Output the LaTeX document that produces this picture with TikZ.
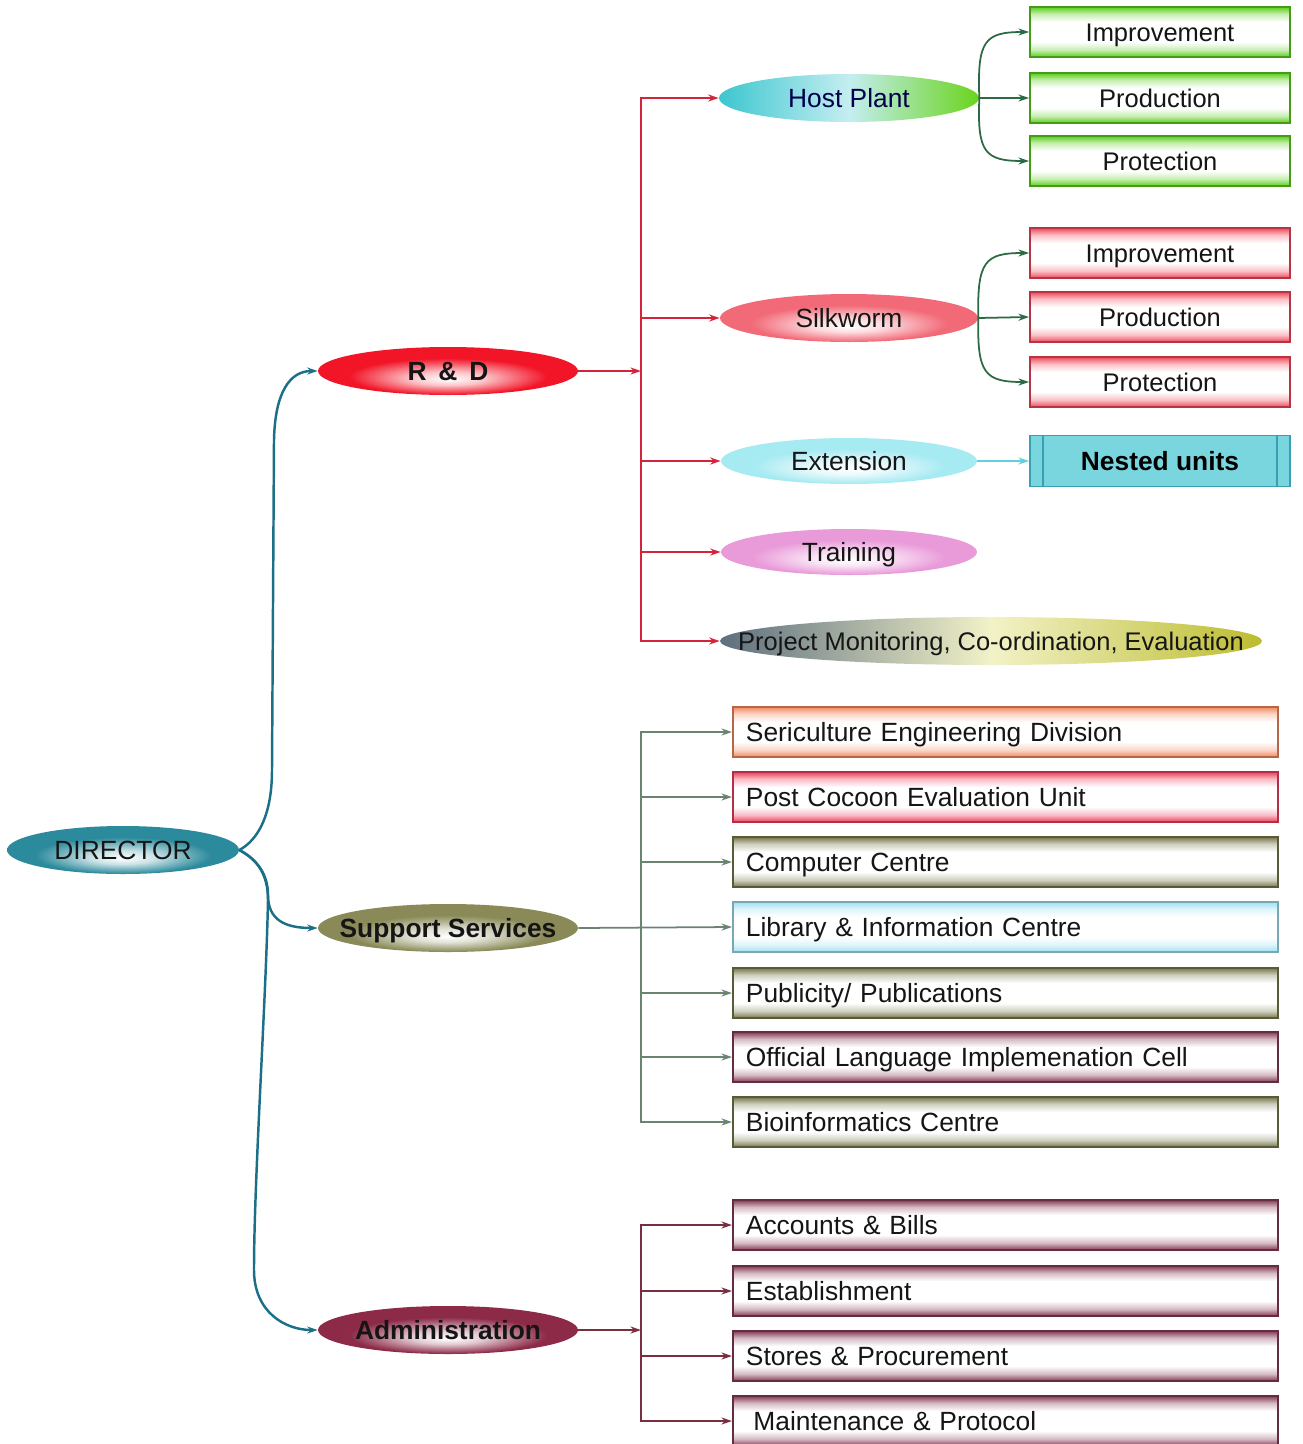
\documentclass[tikz,border=0pt]{standalone}
\usepackage{fontspec}
\setmainfont{Liberation Sans}
\usetikzlibrary{shapes.geometric,arrows.meta}
\colorlet{boxcol}{white}
\colorlet{ovalcol}{white}
\pgfdeclareverticalshading[boxcol]{boxshade}{100bp}{color(0bp)=(boxcol); color(25bp)=(boxcol); color(32bp)=(boxcol!35!white); color(40bp)=(white); color(60bp)=(white); color(68bp)=(boxcol!35!white); color(75bp)=(boxcol); color(100bp)=(boxcol)}
\pgfdeclareradialshading[ovalcol]{ovalshade}{\pgfpoint{0bp}{-9bp}}{color(0bp)=(white); color(7bp)=(ovalcol!25!white); color(19bp)=(ovalcol); color(50bp)=(ovalcol)}
\definecolor{dirc}{HTML}{2B8A9C}
\definecolor{dirl}{HTML}{1B6F86}
\definecolor{rdc}{HTML}{F21528}
\definecolor{rdl}{HTML}{D2253A}
\definecolor{hpL}{HTML}{3CC6CF}
\definecolor{hpR}{HTML}{6AD41C}
\definecolor{hpl}{HTML}{2C6A44}
\definecolor{swc}{HTML}{F26A78}
\definecolor{exc}{HTML}{A6EAF2}
\definecolor{exl}{HTML}{5FD0DC}
\definecolor{trc}{HTML}{E99AD9}
\definecolor{pmL}{HTML}{5D6F7E}
\definecolor{pmM}{HTML}{F2F2C8}
\definecolor{pmR}{HTML}{BCBC30}
\definecolor{ssc}{HTML}{8A8A58}
\definecolor{ssl}{HTML}{6B8472}
\definecolor{adc}{HTML}{8C2A48}
\definecolor{adl}{HTML}{7A2F40}
\definecolor{grn}{HTML}{5CCF1C}
\definecolor{red2}{HTML}{F0485A}
\definecolor{nuf}{HTML}{7AD6DE}
\definecolor{nud}{HTML}{3A9FB0}
\definecolor{seri}{HTML}{F28A60}
\definecolor{pcoc}{HTML}{EE3F5E}
\definecolor{olv}{HTML}{77784A}
\definecolor{lib}{HTML}{9FE0EF}
\definecolor{mar}{HTML}{843A55}
\definecolor{txt}{HTML}{151515}
\begin{document}
\begin{tikzpicture}[x=0.02cm,y=-0.02cm,
  base/.style={font=\fontsize{15}{18}\selectfont, text=txt, text height=10.8pt, text depth=0pt},
  heavy/.style={font=\fontsize{15}{18}\selectfont\bfseries},
  ovalcolor/.code={\colorlet{ovalcol}{#1}},
  boxcolor/.code={\colorlet{boxcol}{#1}},
  oval/.style={ellipse, inner sep=0pt, minimum width=#1, minimum height=0.96cm, shade, shading=ovalshade, base},
  sbox/.style={rectangle, shade, shading=boxshade, boxcolor=#1, draw=#1!75!black, line width=1.1pt,
    minimum height=1.0cm, inner xsep=0.26cm, text width=10.38cm, align=left, base},
  rbox/.style={rectangle, shade, shading=boxshade, boxcolor=#1, draw=#1!75!black, line width=1.1pt,
    minimum height=1.0cm, minimum width=5.2cm, inner sep=0pt, base, font=\fontsize{14.5}{17}\selectfont},
  conn/.style={line width=1pt, draw=#1, -{Stealth[length=6pt,width=4pt]}},
  dline/.style={line width=1.4pt, draw=dirl, -{Stealth[length=6pt,width=4pt]}}
]
\useasboundingbox (0,0) rectangle (1302,1444);

% main ovals
\node[oval=4.64cm, ovalcolor=dirc] (dir) at (123,850) {DIRECTOR};
\node[oval=5.2cm, ovalcolor=rdc, heavy] (rd) at (448,371) {R\hspace{.45em}\&\hspace{.45em}D};
\node[oval=5.2cm, ovalcolor=ssc, heavy] (ss) at (448,928) {\makebox[0pt]{Support Services}};
\node[oval=5.2cm, ovalcolor=adc, heavy] (ad) at (448,1330) {\makebox[0pt]{Administration}};

% R&D ovals
\node[oval=5.2cm, left color=hpL, right color=hpR, middle color=white!70!hpL, text=black!70!blue] (hp) at (849,98) {Host Plant};
\node[oval=5.16cm, ovalcolor=swc] (sw) at (849,318) {Silkworm};
\node[oval=5.12cm, ovalcolor=exc, minimum height=0.92cm] (ex) at (849,461) {Extension};
\node[oval=5.12cm, ovalcolor=trc, minimum height=0.92cm] (tr) at (849,552) {Training};
\node[oval=10.84cm, left color=pmL, right color=pmR, middle color=pmM, font=\fontsize{14.5}{17}\selectfont] (pm) at (991,641) {\makebox[0pt]{Project Monitoring, Co-ordination, Evaluation}};

% right small boxes
\node[rbox=grn] (g1) at (1160,32) {Improvement};
\node[rbox=grn] (g2) at (1160,98) {Production};
\node[rbox=grn] (g3) at (1160,161) {Protection};
\node[rbox=red2] (r1) at (1160,253) {Improvement};
\node[rbox=red2] (r2) at (1160,317) {Production};
\node[rbox=red2] (r3) at (1160,382) {Protection};
\node[rectangle, fill=nuf, draw=nud, line width=1.1pt, minimum width=5.2cm, minimum height=1.02cm, heavy,
  text height=10.8pt, text depth=0pt,
  path picture={\draw[nud, line width=1pt] ([xshift=0.26cm]path picture bounding box.north west) -- ([xshift=0.26cm]path picture bounding box.south west);
                \draw[nud, line width=1pt] ([xshift=-0.26cm]path picture bounding box.north east) -- ([xshift=-0.26cm]path picture bounding box.south east);}]
  (nu) at (1160,461) {Nested units};

% support boxes
\node[sbox=seri, anchor=west] (s1) at (732,732) {Sericulture Engineering Division};
\node[sbox=pcoc, anchor=west] (s2) at (732,797) {Post Cocoon Evaluation Unit};
\node[sbox=olv, anchor=west] (s3) at (732,862) {Computer Centre};
\node[sbox=lib, anchor=west] (s4) at (732,927) {Library \& Information Centre};
\node[sbox=olv, anchor=west] (s5) at (732,993) {Publicity/ Publications};
\node[sbox=mar, anchor=west] (s6) at (732,1057) {Official Language Implemenation Cell};
\node[sbox=olv, anchor=west] (s7) at (732,1122) {Bioinformatics Centre};

% admin boxes
\node[sbox=mar, anchor=west] (a1) at (732,1225) {Accounts \& Bills};
\node[sbox=mar, anchor=west] (a2) at (732,1291) {Establishment};
\node[sbox=mar, anchor=west] (a3) at (732,1356) {Stores \& Procurement};
\node[sbox=mar, anchor=west] (a4) at (732,1421) {\hspace{0.15cm}Maintenance \& Protocol};

% director connectors
\draw[dline] (dir.east) .. controls (258,840) and (272,815) .. (272,770) -- (274,440) .. controls (275,392) and (290,371) .. (rd.west);
\draw[dline] (dir.east) .. controls (258,860) and (268,875) .. (268,895) .. controls (268,920) and (285,928) .. (ss.west);
\draw[dline] (dir.east) .. controls (258,860) and (268,875) .. (268,900) .. controls (266,1000) and (254,1180) .. (254,1270) .. controls (254,1312) and (285,1330) .. (ad.west);

% R&D bus
\coordinate (rdb) at (641,371);
\draw[conn=rdl] (rd.east) -- (rdb);
\foreach \t in {hp,sw,ex,tr,pm} \draw[conn=rdl] (rdb) |- (\t.west);

% host plant / silkworm branches
\draw[conn=hpl] (hp.east) -- (g2.west);
\draw[conn=hpl] (hp.east) .. controls (977,40) and (985,32) .. (g1.west);
\draw[conn=hpl] (hp.east) .. controls (977,153) and (985,161) .. (g3.west);
\draw[conn=hpl] (sw.east) -- (r2.west);
\draw[conn=hpl] (sw.east) .. controls (977,261) and (985,253) .. (r1.west);
\draw[conn=hpl] (sw.east) .. controls (977,374) and (985,382) .. (r3.west);
\draw[conn=exl, line width=1.3pt] (ex.east) -- (nu.west);

% support bus
\coordinate (ssb) at (641,928);
\draw[conn=ssl] (ss.east) -- (s4.west);
\foreach \t in {s1,s2,s3,s5,s6,s7} \draw[conn=ssl] (ssb) |- (\t.west);

% admin bus
\coordinate (adb) at (641,1330);
\draw[conn=adl] (ad.east) -- (adb);
\foreach \t in {a1,a2,a3,a4} \draw[conn=adl] (adb) |- (\t.west);
\end{tikzpicture}
\end{document}
